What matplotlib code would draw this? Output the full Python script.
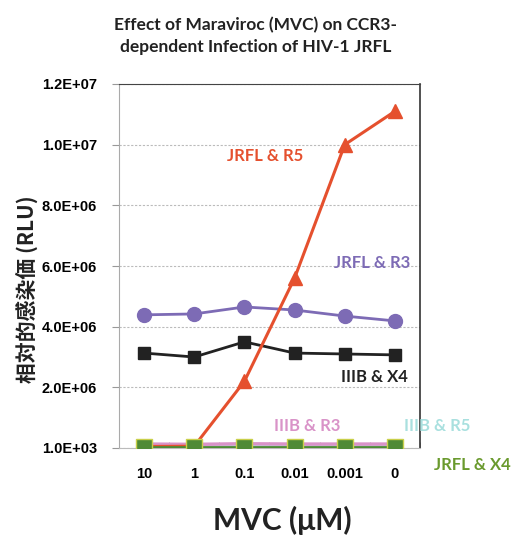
import matplotlib
matplotlib.use("Agg")
import matplotlib.pyplot as plt
from matplotlib.ticker import FixedLocator

categories = ["10", "1", "0.1", "0.01", "0.001", "0"]
jrfl_r5 = [5.0e4, 6.0e4, 2.2e6, 5.6e6, 1.0e7, 1.11e7]
jrfl_r3 = [4.39e6, 4.42e6, 4.65e6, 4.55e6, 4.35e6, 4.19e6]
iiib_x4 = [3.13e6, 3.0e6, 3.5e6, 3.13e6, 3.1e6, 3.07e6]
iiib_r3 = [1.3e5, 1.2e5, 1.4e5, 1.3e5, 1.3e5, 1.3e5]
iiib_r5 = [6.0e4, 6.0e4, 6.0e4, 6.0e4, 6.0e4, 6.0e4]
jrfl_x4 = [2.0e4, 2.0e4, 2.0e4, 2.0e4, 2.0e4, 2.0e4]
ytick_vals = [1.0e3, 2.0e6, 4.0e6, 6.0e6, 8.0e6, 1.0e7, 1.2e7]
ytick_labels = ["1.0E+03", "2.0E+06", "4.0E+06", "6.0E+06", "8.0E+06", "1.0E+07", "1.2E+07"]

plt.rcParams['font.family'] = ['Lato', 'DejaVu Sans']

fig = plt.figure(figsize=(5.12, 5.36), dpi=100)
ax = fig.add_axes([0.2324, 0.1642, 0.5879, 0.6791])
x = list(range(len(categories)))

c_red = "#E5502E"
c_purple = "#7D6BB5"
c_black = "#222222"
c_pink = "#D993C8"
c_cyan = "#A9E0DF"
c_green = "#4F8A35"

ax.plot(x, iiib_r5, color=c_cyan, lw=2, marker="o", ms=5, zorder=2)
ax.plot(x, iiib_r3, color=c_pink, lw=2.5, marker="^", ms=6, zorder=3)
ax.plot(x, iiib_x4, color=c_black, lw=2, marker="s", ms=8, zorder=5)
ax.plot(x, jrfl_r3, color=c_purple, lw=2, marker="o", ms=10, zorder=5)
ax.plot(x, jrfl_r5, color=c_red, lw=2.2, marker="^", ms=10, zorder=6)
ax.plot(x, jrfl_x4, color=c_green, lw=2, marker="s", ms=11, mec="#C9D04A", mew=1, zorder=7)

ax.set_xlim(-0.5, len(categories) - 0.5)
ax.set_ylim(1.0e3, 1.2e7)
ax.set_yticks(ytick_vals)
ax.set_yticklabels(ytick_labels, fontsize=10.5, fontweight="bold", family="Liberation Sans")
ax.set_xticks(x)
ax.set_xticklabels(categories, fontsize=10.5, fontweight="bold", family="Liberation Sans")
ax.xaxis.set_minor_locator(FixedLocator([i + 0.5 for i in range(-1, len(categories))]))
ax.tick_params(axis="x", which="major", length=0, pad=14)
ax.tick_params(axis="x", which="minor", length=4, color="#999999", direction="in")
ax.tick_params(axis="y", length=5, color="#999999", pad=11)
ax.grid(axis="y", color="#BBBBBB", ls=(0, (2, 1.5)), lw=0.8)
ax.set_axisbelow(True)

ax.spines["left"].set_color("#AAAAAA")
ax.spines["bottom"].set_color("#BBBBBB")
ax.spines["top"].set_color("#444444")
ax.spines["right"].set_color("#333333")
ax.spines["right"].set_linewidth(1.2)

fig.text(28 / 512, 1 - 289 / 536, "相対的感染価 (RLU)", rotation=90, ha="center", va="center",
         fontsize=15, fontweight="bold", family=["Noto Sans CJK JP", "DejaVu Sans"], color="#222222")
fig.text(282 / 512, 1 - 520 / 536, "MVC (μM)", ha="center", va="center",
         fontsize=21.5, fontweight="bold", color="#222222")

fig.text(0.5, 1 - 17 / 536, "Effect of Maraviroc (MVC) on CCR3-\ndependent Infection of HIV-1 JRFL",
         ha="center", va="top", fontsize=12.5, fontweight="bold", color="#222222", linespacing=1.45)

lab_kw = dict(fontsize=12, fontweight="bold", ha="center", va="center")
fig.text(265 / 512, 1 - 156 / 536, "JRFL & R5", color=c_red, **lab_kw)
fig.text(372 / 512, 1 - 263 / 536, "JRFL & R3", color=c_purple, **lab_kw)
fig.text(374 / 512, 1 - 377 / 536, "IIIB & X4", color=c_black, **lab_kw)
fig.text(307 / 512, 1 - 426 / 536, "IIIB & R3", color=c_pink, **lab_kw)
fig.text(437 / 512, 1 - 426 / 536, "IIIB & R5", color=c_cyan, **lab_kw)
fig.text(472 / 512, 1 - 465 / 536, "JRFL & X4", color="#6A9A2E", **lab_kw)

fig.savefig("out.png", dpi=100)
